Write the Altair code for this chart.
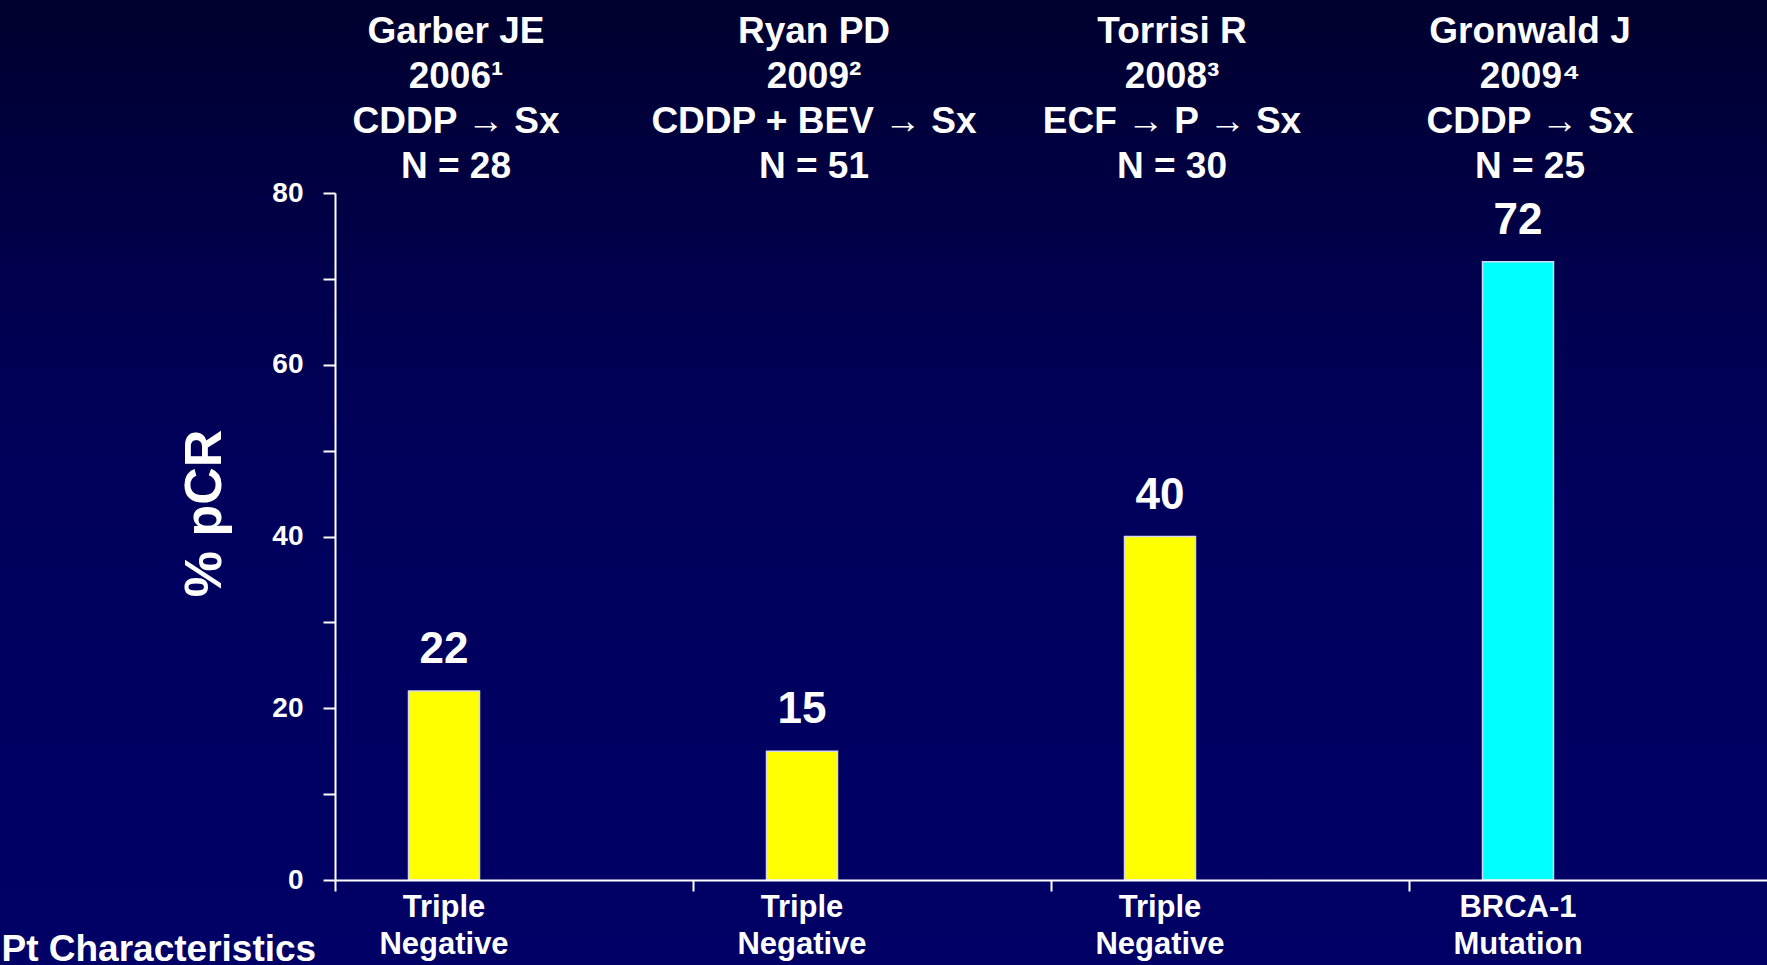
import json
import altair as alt
import pandas as pd

# ---- data ----
studies = ["Garber JE", "Ryan PD", "Torrisi R", "Gronwald J"]
years = ["2006¹", "2009²", "2008³", "2009⁴"]
regimens = ["CDDP → Sx", "CDDP + BEV → Sx", "ECF → P → Sx", "CDDP → Sx"]
sizes = ["N = 28", "N = 51", "N = 30", "N = 25"]
pcr = [22, 15, 40, 72]
char_line1 = ["Triple", "Triple", "Triple", "BRCA-1"]
char_line2 = ["Negative", "Negative", "Negative", "Mutation"]
bar_colors = ["#FFFF00", "#FFFF00", "#FFFF00", "#00FFFF"]
y_ticks = [0, 10, 20, 30, 40, 50, 60, 70, 80]

df = pd.DataFrame({
    "idx": list(range(len(studies))),
    "pcr": pcr,
    "fill": bar_colors,
})

headers = ["|".join(t) for t in zip(studies, years, regimens, sizes)]
chars = ["|".join(t) for t in zip(char_line1, char_line2)]
top_expr = f"split({json.dumps(headers, ensure_ascii=False)}[datum.value], '|')"
bot_expr = f"split({json.dumps(chars, ensure_ascii=False)}[datum.value], '|')"

FONT = "Liberation Sans"
W, H = 1432, 687
LEFT, TOP = 335, 193

xscale = alt.Scale(paddingInner=0, paddingOuter=0)

y_enc = alt.Y(
    "pcr:Q",
    scale=alt.Scale(domain=[0, 80], nice=False),
    axis=alt.Axis(
        values=y_ticks,
        labelExpr="datum.value % 20 === 0 ? datum.label : ''",
        title="% pCR",
        titleFontSize=52, titleFont=FONT, titleFontWeight="bold", titleColor="white",
        titlePadding=40, titleY=320,
        labelFontSize=28, labelFont=FONT, labelFontWeight="bold", labelColor="white",
        labelPadding=20,
        tickSize=12, tickWidth=2, tickColor="white",
        domainColor="white", domainWidth=2,
        grid=False, zindex=1,
    ),
)

bottom_axis = alt.Axis(
    orient="bottom",
    labelExpr=bot_expr,
    labelAngle=0,
    labelFontSize=31, labelFont=FONT, labelFontWeight="bold", labelColor="white",
    labelLineHeight=37, labelBaseline="top", labelPadding=1,
    labelLimit=0, labelOverlap=False,
    bandPosition=0, labelOffset=-70,
    tickSize=11, tickWidth=2, tickColor="white",
    domainColor="white", domainWidth=2,
    title="Pt Characteristics",
    titleFontSize=37, titleFont=FONT, titleFontWeight="bold", titleColor="white",
    titleX=-LEFT + 1, titleY=80, titleAlign="left", titleAnchor="start",
    titleBaseline="alphabetic",
    grid=False, zindex=1,
)

top_axis = alt.Axis(
    orient="top",
    labelExpr=top_expr,
    labelAngle=0,
    labelFontSize=37, labelFont=FONT, labelFontWeight="bold", labelColor="white",
    labelLineHeight=45, labelBaseline="bottom", labelPadding=143,
    labelLimit=0, labelOverlap=False,
    labelOffset=-58,
    ticks=False, domain=False, title=None, grid=False, zindex=1,
)

background = alt.Chart(alt.Data(values=[{"k": 1}])).mark_rect(
    fill=alt.Gradient(
        gradient="linear",
        stops=[
            alt.GradientStop(color="#00002e", offset=0),
            alt.GradientStop(color="#00004e", offset=0.3),
            alt.GradientStop(color="#00005c", offset=0.5),
            alt.GradientStop(color="#000066", offset=1),
        ],
        x1=0, x2=0, y1=0, y2=1,
    ),
    strokeWidth=0,
).encode(
    x=alt.value(-LEFT), x2=alt.value(W),
    y=alt.value(-TOP), y2=alt.value(965 - TOP),
)

bars = alt.Chart(df).mark_bar(
    width=71, xOffset=-70, stroke="#d6d6f0", strokeWidth=1.5
).encode(
    x=alt.X("idx:O", scale=xscale, axis=bottom_axis),
    y=y_enc,
    color=alt.Color("fill:N", scale=None),
)

labels = alt.Chart(df).mark_text(
    xOffset=-70, dy=-28, baseline="alphabetic", align="center",
    font=FONT, fontSize=44, fontWeight="bold", color="white",
).encode(
    x=alt.X("idx:O", scale=xscale, axis=top_axis),
    y=y_enc,
    text=alt.Text("pcr:Q"),
)

chart = (
    alt.layer(background, bars, labels)
    .resolve_axis(x="independent")
    .properties(width=W, height=H, padding=0, background="#000066")
    .configure_view(strokeWidth=0)
)

chart.save("out.html", embed_options={"renderer": "svg", "actions": False})
